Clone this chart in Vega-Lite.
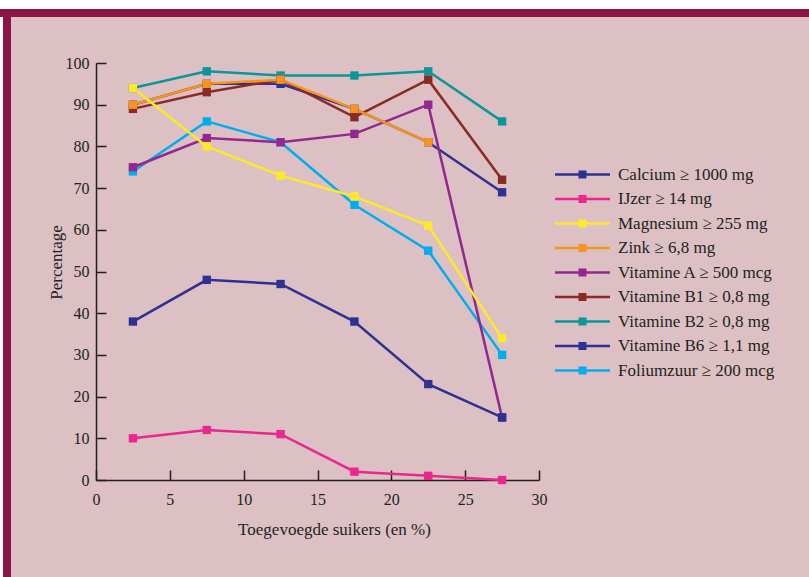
{
  "$schema": "https://vega.github.io/schema/vega-lite/v6.json",
  "background": "#dcc0c4",
  "padding": 0,
  "spacing": 0,
  "config": {
    "view": {"stroke": null},
    "concat": {"spacing": 0},
    "font": "Liberation Serif",
    "axis": {
      "domainColor": "#231f20",
      "tickColor": "#231f20",
      "domainWidth": 1.5,
      "tickWidth": 1.5,
      "grid": false,
      "labelFont": "Liberation Serif",
      "labelColor": "#231f20",
      "labelFontSize": 16,
      "titleFont": "Liberation Serif",
      "titleColor": "#231f20",
      "titleFontSize": 17,
      "titleFontWeight": "normal"
    },
    "legend": {
      "labelFont": "Liberation Serif",
      "labelColor": "#231f20",
      "labelFontSize": 17
    }
  },
  "vconcat": [
    {"width": 809, "height": 9, "view": {"fill": "white", "stroke": null}, "data": {"values": []}, "mark": "point"},
    {"width": 809, "height": 8, "view": {"fill": "#8c1447", "stroke": null}, "data": {"values": []}, "mark": "point"},
    {
      "spacing": 0,
      "hconcat": [
        {"width": 3, "height": 560, "view": {"fill": "white", "stroke": null}, "data": {"values": []}, "mark": "point"},
        {"width": 8, "height": 560, "view": {"fill": "#8c1447", "stroke": null}, "data": {"values": []}, "mark": "point"},
        {"width": 36, "height": 1, "view": {"stroke": null}, "data": {"values": []}, "mark": "point"},
        {
          "spacing": 0,
          "vconcat": [
            {"width": 1, "height": 38, "view": {"stroke": null}, "data": {"values": []}, "mark": "point"},
            {
              "width": 443,
              "height": 417,
              "data": {
                "values": [
                  {"s": "Foliumzuur ≥ 200 mcg", "x": 2.5, "y": 74},
                  {"s": "Foliumzuur ≥ 200 mcg", "x": 7.5, "y": 86},
                  {"s": "Foliumzuur ≥ 200 mcg", "x": 12.5, "y": 81},
                  {"s": "Foliumzuur ≥ 200 mcg", "x": 17.5, "y": 66},
                  {"s": "Foliumzuur ≥ 200 mcg", "x": 22.5, "y": 55},
                  {"s": "Foliumzuur ≥ 200 mcg", "x": 27.5, "y": 30},
                  {"s": "Vitamine B6 ≥ 1,1 mg", "x": 2.5, "y": 90},
                  {"s": "Vitamine B6 ≥ 1,1 mg", "x": 7.5, "y": 95},
                  {"s": "Vitamine B6 ≥ 1,1 mg", "x": 12.5, "y": 95},
                  {"s": "Vitamine B6 ≥ 1,1 mg", "x": 17.5, "y": 89},
                  {"s": "Vitamine B6 ≥ 1,1 mg", "x": 22.5, "y": 81},
                  {"s": "Vitamine B6 ≥ 1,1 mg", "x": 27.5, "y": 69},
                  {"s": "Vitamine B2 ≥ 0,8 mg", "x": 2.5, "y": 94},
                  {"s": "Vitamine B2 ≥ 0,8 mg", "x": 7.5, "y": 98},
                  {"s": "Vitamine B2 ≥ 0,8 mg", "x": 12.5, "y": 97},
                  {"s": "Vitamine B2 ≥ 0,8 mg", "x": 17.5, "y": 97},
                  {"s": "Vitamine B2 ≥ 0,8 mg", "x": 22.5, "y": 98},
                  {"s": "Vitamine B2 ≥ 0,8 mg", "x": 27.5, "y": 86},
                  {"s": "Vitamine B1 ≥ 0,8 mg", "x": 2.5, "y": 89},
                  {"s": "Vitamine B1 ≥ 0,8 mg", "x": 7.5, "y": 93},
                  {"s": "Vitamine B1 ≥ 0,8 mg", "x": 12.5, "y": 96},
                  {"s": "Vitamine B1 ≥ 0,8 mg", "x": 17.5, "y": 87},
                  {"s": "Vitamine B1 ≥ 0,8 mg", "x": 22.5, "y": 96},
                  {"s": "Vitamine B1 ≥ 0,8 mg", "x": 27.5, "y": 72},
                  {"s": "Vitamine A ≥ 500 mcg", "x": 2.5, "y": 75},
                  {"s": "Vitamine A ≥ 500 mcg", "x": 7.5, "y": 82},
                  {"s": "Vitamine A ≥ 500 mcg", "x": 12.5, "y": 81},
                  {"s": "Vitamine A ≥ 500 mcg", "x": 17.5, "y": 83},
                  {"s": "Vitamine A ≥ 500 mcg", "x": 22.5, "y": 90},
                  {"s": "Vitamine A ≥ 500 mcg", "x": 27.5, "y": 15},
                  {"s": "Zink ≥ 6,8 mg", "x": 2.5, "y": 90},
                  {"s": "Zink ≥ 6,8 mg", "x": 7.5, "y": 95},
                  {"s": "Zink ≥ 6,8 mg", "x": 12.5, "y": 96},
                  {"s": "Zink ≥ 6,8 mg", "x": 17.5, "y": 89},
                  {"s": "Zink ≥ 6,8 mg", "x": 22.5, "y": 81},
                  {"s": "Magnesium ≥ 255 mg", "x": 2.5, "y": 94},
                  {"s": "Magnesium ≥ 255 mg", "x": 7.5, "y": 80},
                  {"s": "Magnesium ≥ 255 mg", "x": 12.5, "y": 73},
                  {"s": "Magnesium ≥ 255 mg", "x": 17.5, "y": 68},
                  {"s": "Magnesium ≥ 255 mg", "x": 22.5, "y": 61},
                  {"s": "Magnesium ≥ 255 mg", "x": 27.5, "y": 34},
                  {"s": "IJzer ≥ 14 mg", "x": 2.5, "y": 10},
                  {"s": "IJzer ≥ 14 mg", "x": 7.5, "y": 12},
                  {"s": "IJzer ≥ 14 mg", "x": 12.5, "y": 11},
                  {"s": "IJzer ≥ 14 mg", "x": 17.5, "y": 2},
                  {"s": "IJzer ≥ 14 mg", "x": 22.5, "y": 1},
                  {"s": "IJzer ≥ 14 mg", "x": 27.5, "y": 0},
                  {"s": "Calcium ≥ 1000 mg", "x": 2.5, "y": 38},
                  {"s": "Calcium ≥ 1000 mg", "x": 7.5, "y": 48},
                  {"s": "Calcium ≥ 1000 mg", "x": 12.5, "y": 47},
                  {"s": "Calcium ≥ 1000 mg", "x": 17.5, "y": 38},
                  {"s": "Calcium ≥ 1000 mg", "x": 22.5, "y": 23},
                  {"s": "Calcium ≥ 1000 mg", "x": 27.5, "y": 15}
                ]
              },
              "encoding": {
                "x": {
                  "field": "x", "type": "quantitative",
                  "scale": {"domain": [0, 30], "nice": false},
                  "axis": {
                    "title": "Toegevoegde suikers (en %)",
                    "values": [0, 5, 10, 15, 20, 25, 30],
                    "tickSize": -10,
                    "labelPadding": 21,
                    "labelFlush": false,
                    "titleX": 238,
                    "titlePadding": 14
                  }
                },
                "y": {
                  "field": "y", "type": "quantitative",
                  "scale": {"domain": [0, 100], "nice": false},
                  "axis": {
                    "title": "Percentage",
                    "values": [0, 10, 20, 30, 40, 50, 60, 70, 80, 90, 100],
                    "tickSize": -10,
                    "labelPadding": 17,
                    "titleY": 199,
                    "titlePadding": 0
                  }
                },
                "color": {
                  "field": "s", "type": "nominal",
                  "scale": {
                    "domain": ["Calcium ≥ 1000 mg", "IJzer ≥ 14 mg", "Magnesium ≥ 255 mg", "Zink ≥ 6,8 mg", "Vitamine A ≥ 500 mcg", "Vitamine B1 ≥ 0,8 mg", "Vitamine B2 ≥ 0,8 mg", "Vitamine B6 ≥ 1,1 mg", "Foliumzuur ≥ 200 mcg"],
                    "range": ["#2e3192", "#e9278e", "#fbe92a", "#f7941d", "#92278f", "#8b2a24", "#0b969a", "#2e3192", "#00aeef"]
                  },
                  "legend": {
                    "title": null,
                    "orient": "none",
                    "legendX": 574,
                    "legendY": 166,
                    "padding": 0,
                    "symbolType": "M-6.875,-0.3H6.875V0.3H-6.875Z M-1,-1H1V1H-1Z",
                    "symbolSize": 64,
                    "symbolStrokeWidth": 0,
                    "labelOffset": 27,
                    "rowPadding": 6.5
                  }
                }
              },
              "layer": [
                {"mark": {"type": "line", "strokeWidth": 2.5}},
                {"mark": {"type": "point", "shape": "square", "filled": true, "size": 70, "opacity": 1}}
              ]
            }
          ]
        }
      ]
    }
  ]
}
